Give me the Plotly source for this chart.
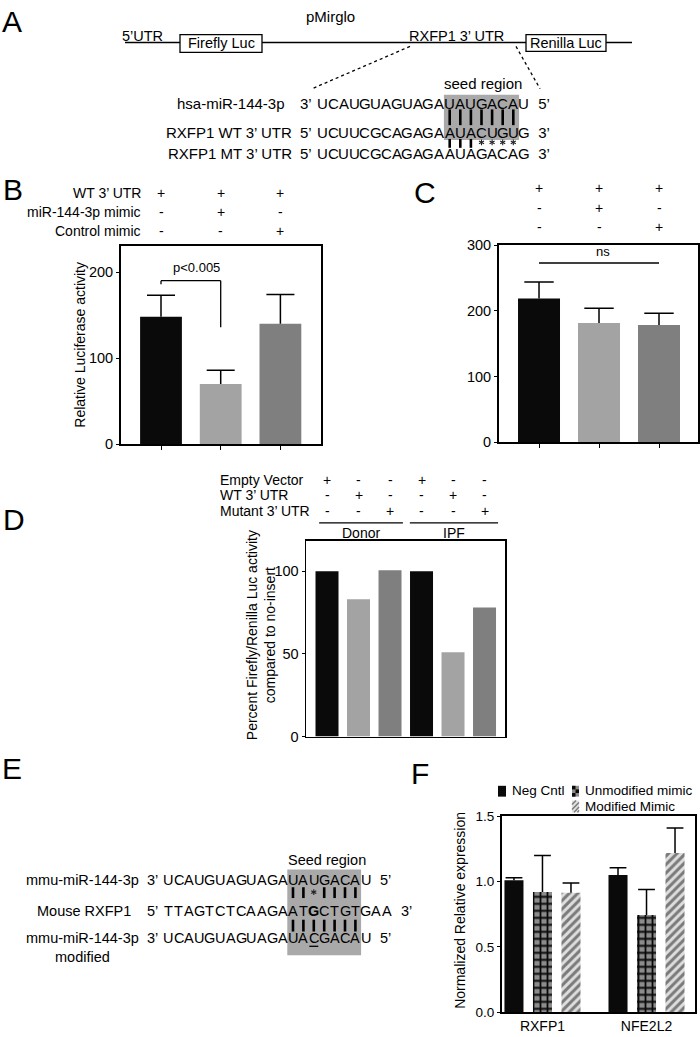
import math
import plotly.graph_objects as go

W, H = 700, 1037
FONT = "Liberation Sans"

# ---------------- data ----------------
b_header_rows = ["WT 3’ UTR", "miR-144-3p mimic", "Control mimic"]
b_header_signs = [["+", "+", "+"], ["-", "+", "-"], ["-", "-", "+"]]
b_values = [148, 70, 140]
b_errors = [25, 16, 34]
b_ticks = [0, 100, 200]
b_sig_text = "p<0.005"
b_sig_levels = [190, 186, 136]   # bracket top, left drop, right drop

c_values = [219, 181.5, 178.5]
c_errors = [25, 22.5, 18]
c_ticks = [0, 100, 200, 300]
c_sig_text = "ns"
c_sig_level = 273

bar_colors = ["#0a0a0a", "#a3a3a3", "#7f7f7f"]

d_rows = ["Empty Vector", "WT 3’ UTR", "Mutant 3’ UTR"]
d_signs = [["+", "-", "-", "+", "-", "-"],
           ["-", "+", "-", "-", "+", "-"],
           ["-", "-", "+", "-", "-", "+"]]
d_groups = ["Donor", "IPF"]
d_values = [100, 83, 100.6, 100, 51, 78]
d_ticks = [0, 50, 100]

f_genes = ["RXFP1", "NFE2L2"]
f_series = ["Neg Cntl", "Unmodified mimic", "Modified Mimic"]
f_values = [[1.01, 1.05], [0.92, 0.745], [0.915, 1.22]]
f_errors = [[0.02, 0.057], [0.28, 0.195], [0.075, 0.19]]
f_ticks = [0.0, 0.5, 1.0, 1.5]

a_mirna = "UCAUGUAGUAGAUAUGACAU"
a_wt = "UCUUCGCAGAGAAUACUGUG"
a_mt = "UCUUCGCAGAGAAUAGACAG"
a_pairs_top = "|||||||"
a_pairs_bottom = "|||****"
e_mirna = "UCAUGUAGUAGAUAUGACAU"
e_mouse = "TTAGTCTCAAGAATGCTGTGAA"
e_mod = "UCAUGUAGUAGAUACGACAU"
e_pairs_top = "||*||||"
e_pairs_bottom = "|||||||"
seed_start = 12


# ---------------- helpers ----------------
def px(x):
    return x / W


def py(y):
    return 1 - y / H


ann = []
shapes = []


def text(x, y, s, size=14, xanchor="center", yanchor="middle", angle=0, color="black"):
    ann.append(dict(x=px(x), y=py(y), xref="paper", yref="paper", text=s, showarrow=False,
                    font=dict(family=FONT, size=size, color=color), xanchor=xanchor,
                    yanchor=yanchor, textangle=angle, borderpad=0))


def line(x0, y0, x1, y1, width=1.5, color="black", dash=None):
    shapes.append(dict(type="line", xref="paper", yref="paper", x0=px(x0), y0=py(y0),
                       x1=px(x1), y1=py(y1), line=dict(color=color, width=width, dash=dash)))


def rect(x0, y0, x1, y1, fill, lw=0, lc="black"):
    shapes.append(dict(type="rect", xref="paper", yref="paper", x0=px(x0), y0=py(y0),
                       x1=px(x1), y1=py(y1), fillcolor=fill,
                       line=dict(color=lc, width=lw)))


def star(xc, yc, r=2.9):
    # small six-armed asterisk drawn with three strokes
    for ang in (90, 30, 150):
        dx, dy = r * math.cos(math.radians(ang)), r * math.sin(math.radians(ang))
        line(xc - dx, yc - dy, xc + dx, yc + dy, width=1.1, color="#222222")


def seq_row(seq, x0, pitch, y, size, prefix, suffix, bold_idx=None):
    for i, ch in enumerate(seq):
        t = "<b>%s</b>" % ch if i == bold_idx else ch
        text(x0 + i * pitch, y, t, size)
    text(x0 - pitch / 2 - 4, y, prefix, size, xanchor="right")
    text(x0 + (len(seq) - 0.5) * pitch + 4, y, " " + suffix, size, xanchor="left")


def pairs(marks, x0, pitch, y0, y1, star_y):
    for k, m in enumerate(marks):
        xc = x0 + (seed_start + k) * pitch
        if m == "|":
            line(xc, y0, xc, y1, width=2.6)
        else:
            star(xc, star_y)


# ---------------- panel letters ----------------
for lab, (lx, ly) in {"A": (12, 14), "B": (13, 184), "C": (425, 187),
                      "D": (14, 520), "E": (12, 772), "F": (420, 778)}.items():
    text(lx, ly, lab, 30)

# ---------------- panel A diagram ----------------
text(330, 9, "pMirglo", 15)
line(125, 35, 632, 35, width=1.5)
rect(180, 27, 262, 45, "white", lw=1.3)
rect(526, 27, 606, 44, "white", lw=1.3)
text(221, 36, "Firefly Luc", 14.5)
text(566, 36, "Renilla Luc", 14.5)
text(142, 28, "5’UTR", 14.5)
text(457, 28, "RXFP1 3’ UTR", 14.5)
line(410, 39, 312, 82, width=1.3, dash="dot")
line(516, 39, 540, 82, width=1.3, dash="dot")

a_x0, a_pitch = 322.5, 10.6
rect(a_x0 + (seed_start - 0.5) * a_pitch - 0.5, 88, a_x0 + (seed_start + 6.5) * a_pitch + 0.5, 134, "#a9a9a9")
text(483, 77, "seed region", 15)
text(286, 97, "hsa-miR-144-3p", 15, xanchor="right")
text(293, 126, "RXFP1 WT 3’ UTR", 15, xanchor="right")
text(293, 148, "RXFP1 MT 3’ UTR", 15, xanchor="right")
seq_row(a_mirna, a_x0, a_pitch, 97, 15, "3’", "5’")
seq_row(a_wt, a_x0, a_pitch, 126, 15, "5’", "3’")
seq_row(a_mt, a_x0, a_pitch, 148, 15, "5’", "3’")
pairs(a_pairs_top, a_x0, a_pitch, 103, 119, 0)
pairs(a_pairs_bottom, a_x0, a_pitch, 133, 142, 136.5)

# ---------------- panel E diagram ----------------
e_x0, e_pitch = 168.2, 10.4
rect(e_x0 + (seed_start - 0.5) * e_pitch - 0.5, 875, e_x0 + (seed_start + 6.5) * e_pitch + 0.5, 962, "#a9a9a9")
text(327, 865, "Seed region", 14.5)
text(82, 886, "mmu-miR-144-3p", 14.5)
text(84, 917, "Mouse RXFP1", 14.5)
text(82, 954, "mmu-miR-144-3p<br>modified", 14.5)
seq_row(e_mirna, e_x0, e_pitch, 886, 14.5, "3’", "5’")
seq_row(e_mouse, e_x0, e_pitch, 917, 14.5, "5’", "3’", bold_idx=14)
seq_row(e_mod, e_x0, e_pitch, 945, 14.5, "3’", "5’")
pairs(e_pairs_top, e_x0, e_pitch, 893, 904, 898)
pairs(e_pairs_bottom, e_x0, e_pitch, 926, 938, 0)
ux = e_x0 + 14 * e_pitch
line(ux - 4.5, 953, ux + 4.5, 953, width=1.3)

# ---------------- figure & traces ----------------
fig = go.Figure()


def add_bars(xa, ya, xs, vals, errs, colors, width, cap):
    fig.add_trace(go.Bar(
        x=xs, y=vals, width=width, marker=dict(color=colors, line=dict(width=0)),
        error_y=dict(type="data", array=errs if errs else None,
                     arrayminus=[0] * len(vals) if errs else None, symmetric=False,
                     color="black", thickness=1.5, width=0, visible=bool(errs)),
        xaxis=xa, yaxis=ya, hoverinfo="skip", showlegend=False))
    if errs:
        fig.add_trace(go.Scatter(
            x=xs, y=[v + e for v, e in zip(vals, errs)], mode="markers",
            marker=dict(symbol="line-ew", size=cap, color="black",
                        line=dict(width=1.5, color="black")),
            xaxis=xa, yaxis=ya, hoverinfo="skip", showlegend=False))


b_x = list(range(len(b_values)))
c_x = list(range(len(c_values)))
d_x = list(range(len(d_values)))
add_bars("x", "y", b_x, b_values, b_errors, bar_colors, 0.7, 20)
add_bars("x2", "y2", c_x, c_values, c_errors, bar_colors, 0.7, 21)
add_bars("x3", "y3", d_x, d_values, None, bar_colors * 2, 0.73, 0)

# panel F grouped bars
f_slot, f_width = 0.274, 0.183
f_styles = [
    dict(color="#0a0a0a"),
    dict(color="#8c8c8c", pattern=dict(shape="+", fgcolor="#0a0a0a", bgcolor="#8c8c8c",
                                       size=7, solidity=0.45, fillmode="replace")),
    dict(color="#7a7a7a", pattern=dict(shape="/", fgcolor="#7a7a7a", bgcolor="#dedede",
                                       size=6, solidity=0.5, fillmode="replace")),
]
f_x = list(range(len(f_genes)))
for k, name in enumerate(f_series):
    center = (k - 1) * f_slot
    fig.add_trace(go.Bar(
        x=f_x, y=f_values[k], name=name, width=f_width, offset=center - f_width / 2,
        marker=dict(line=dict(width=0), **f_styles[k]),
        error_y=dict(type="data", array=f_errors[k], arrayminus=[0] * len(f_x),
                     symmetric=False, color="black", thickness=1.5, width=0),
        xaxis="x4", yaxis="y4", hoverinfo="skip", showlegend=False))
    fig.add_trace(go.Scatter(
        x=[i + center for i in f_x], y=[v + e for v, e in zip(f_values[k], f_errors[k])],
        mode="markers", marker=dict(symbol="line-ew", size=12, color="black",
                                    line=dict(width=1.5, color="black")),
        xaxis="x4", yaxis="y4", hoverinfo="skip", showlegend=False))


# ---------------- axes ----------------
def xdom(x0, x1):
    return [x0 / W, x1 / W]


def ydom(top, bottom):
    return [1 - bottom / H, 1 - top / H]


tickfont = dict(family=FONT, size=14.5, color="black")
base_ax = dict(showline=True, linecolor="black", mirror=True, showgrid=False,
               zeroline=False, tickcolor="black", tickfont=tickfont, fixedrange=True)

layout_axes = dict(
    xaxis=dict(base_ax, domain=xdom(121, 321), range=[-0.67, 2.68], tickvals=b_x,
               showticklabels=False, ticks="outside", ticklen=4, linewidth=2, anchor="y"),
    yaxis=dict(base_ax, domain=ydom(242, 443), range=[0, 230], tickvals=b_ticks,
               ticks="outside", ticklen=3, linewidth=2, anchor="x"),
    xaxis2=dict(base_ax, domain=xdom(499, 698), range=[-0.667, 2.65], tickvals=c_x,
                showticklabels=False, ticks="outside", ticklen=4, linewidth=2, anchor="y2"),
    yaxis2=dict(base_ax, domain=ydom(241, 441), range=[0, 300], tickvals=c_ticks,
                ticks="outside", ticklen=3, linewidth=2, anchor="x2"),
    xaxis3=dict(base_ax, domain=xdom(306, 505), range=[-0.667, 5.65], tickvals=[],
                showticklabels=False, ticks="", linewidth=1.5, anchor="y3"),
    yaxis3=dict(base_ax, domain=ydom(541, 740), range=[0, 118.5], tickvals=d_ticks,
                ticks="outside", ticklen=3, linewidth=1.5, anchor="x3"),
    xaxis4=dict(base_ax, domain=xdom(502, 695), range=[-0.389, 1.466], tickvals=f_x,
                ticktext=f_genes, ticks="", linewidth=2, anchor="y4",
                tickfont=dict(family=FONT, size=14, color="black")),
    yaxis4=dict(base_ax, domain=ydom(821, 1020), range=[0, 1.5], tickvals=f_ticks,
                tickformat=".1f", ticks="outside", ticklen=3, linewidth=2, anchor="x4",
                tickfont=dict(family=FONT, size=13.5, color="black")),
)

# ---------------- panel B / C annotations ----------------
b_rows_y = [188, 207, 226]
c_rows_y = [183, 203, 222]
for r, lab in enumerate(b_header_rows):
    text(142, b_rows_y[r], lab, 14, xanchor="right")
    for j, s in enumerate(b_header_signs[r]):
        ann.append(dict(x=b_x[j], y=py(b_rows_y[r]), xref="x", yref="paper", text=s,
                        showarrow=False, yanchor="middle", borderpad=0,
                        font=dict(family=FONT, size=14, color="black")))
        ann.append(dict(x=c_x[j], y=py(c_rows_y[r]), xref="x2", yref="paper", text=s,
                        showarrow=False, yanchor="middle", borderpad=0,
                        font=dict(family=FONT, size=14, color="black")))

text(80, 342, "Relative Luciferase activity", 14, angle=-90)

# significance bracket B
top, ldrop, rdrop = b_sig_levels
for (x0, y0, x1, y1) in [(0, top, 1, top), (0, top, 0, ldrop), (1, top, 1, rdrop)]:
    shapes.append(dict(type="line", xref="x", yref="y", x0=x0, y0=y0, x1=x1, y1=y1,
                       line=dict(color="black", width=1.3)))
ann.append(dict(x=0.6, y=top + 4, xref="x", yref="y", text=b_sig_text, showarrow=False,
                yanchor="bottom", font=dict(family=FONT, size=13, color="black")))

# ns line C
shapes.append(dict(type="line", xref="x2", yref="y2", x0=0, y0=c_sig_level, x1=2,
                   y1=c_sig_level, line=dict(color="black", width=1.3)))
ann.append(dict(x=1.07, y=c_sig_level + 3, xref="x2", yref="y2", text=c_sig_text,
                showarrow=False, yanchor="bottom",
                font=dict(family=FONT, size=13, color="black")))

# ---------------- panel D annotations ----------------
d_rows_y = [479, 495, 511]
for r, lab in enumerate(d_rows):
    text(219, d_rows_y[r], lab, 14, xanchor="left")
    for j, s in enumerate(d_signs[r]):
        ann.append(dict(x=d_x[j], y=py(d_rows_y[r]), xref="x3", yref="paper", text=s,
                        showarrow=False, yanchor="middle", borderpad=0,
                        font=dict(family=FONT, size=14, color="black")))
for g, (gx0, gx1) in zip(d_groups, [(-0.25, 2.41), (2.63, 5.43)]):
    shapes.append(dict(type="line", xref="x3", yref="paper", x0=gx0, x1=gx1,
                       y0=py(523), y1=py(523), line=dict(color="black", width=1.2)))
    ann.append(dict(x=(gx0 + gx1) / 2, y=py(533), xref="x3", yref="paper", text=g,
                    showarrow=False, font=dict(family=FONT, size=14, color="black")))
text(261, 637, "Percent Firefly/Renilla Luc activity<br>compared to no-insert", 14, angle=-90)

# ---------------- panel F annotations ----------------
text(460, 917, "Normalized Relative expression", 14, angle=-90)
# legend
rect(498, 790, 506, 801, "#0a0a0a")
text(511, 795, f_series[0], 13.5, xanchor="left")
rect(572, 790, 579, 801, "#8c8c8c")
for ci in range(2):
    for ri in range(3):
        if (ci + ri) % 2 == 0:
            rect(572 + ci * 3.5, 790 + ri * 11 / 3, 572 + (ci + 1) * 3.5, 790 + (ri + 1) * 11 / 3, "#0a0a0a")
text(584, 795, f_series[1], 13.5, xanchor="left")
rect(572, 805, 579, 817, "#dedede")
for (x0, y0, x1, y1) in [(572, 809, 576, 805), (572, 814, 579, 807), (574, 817, 579, 811.5), (577.5, 817, 579, 815)]:
    line(x0, y0, x1, y1, width=1.4, color="#7a7a7a")
text(584, 811, f_series[2], 13.5, xanchor="left")

fig.update_layout(
    width=W, height=H, autosize=False, margin=dict(l=0, r=0, t=0, b=0),
    paper_bgcolor="white", plot_bgcolor="white", showlegend=False, barmode="overlay",
    font=dict(family=FONT, color="black"), annotations=ann, shapes=shapes, **layout_axes)

fig.write_html("out.html", config={"displayModeBar": False, "staticPlot": True},
               post_script="document.body.style.margin='0px';document.body.style.padding='0px';")
